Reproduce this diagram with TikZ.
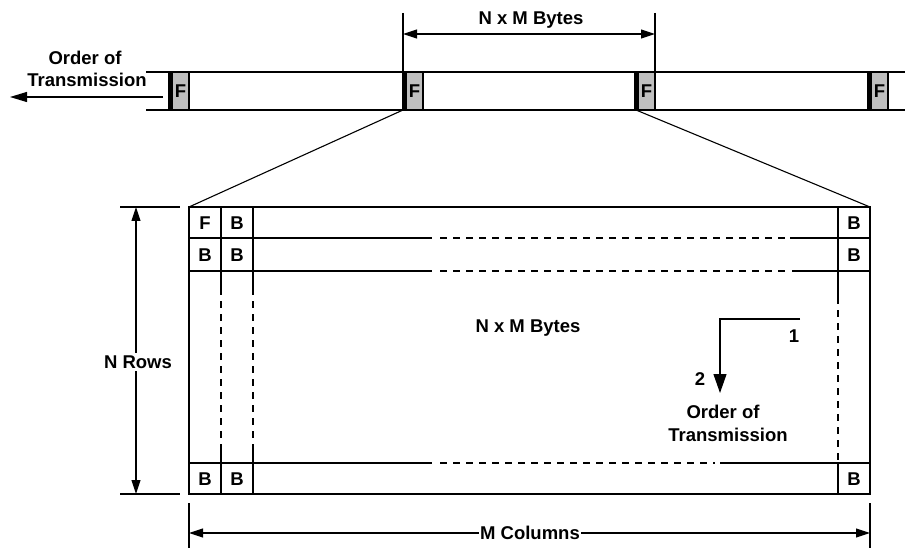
\documentclass[tikz,border=0pt]{standalone}
\usepackage{fontspec}
\setmainfont{Liberation Sans}
\usetikzlibrary{arrows.meta}
\begin{document}
\begin{tikzpicture}[x=1pt,y=-1pt,
  lbl/.style={font=\fontsize{18.5}{20}\selectfont\bfseries, inner sep=1pt},
  cell/.style={font=\fontsize{18.5}{20}\selectfont\bfseries, inner sep=0pt},
  dim/.style={line width=1.1pt, {Triangle[length=14pt,width=9pt]}-{Triangle[length=14pt,width=9pt]}},
  thin/.style={line width=1.1pt},
  thickl/.style={line width=2.4pt},
  fbox/.style={fill=black!25, draw=black, line width=1.1pt}]
\useasboundingbox (0,0) rectangle (905,548);

% ---- top strip ----
\draw[thickl] (146,72) -- (905,72);
\draw[thickl] (146,110) -- (905,110);
\foreach \x/\n in {168/fa,402/fb,634/fc,867/fd}{
  \filldraw[fbox] (\x+4,72) rectangle (\x+21,110);
  \fill (\x,72) rectangle (\x+4,110);
  \node[cell] (\n) at (\x+12.5,91) {F};
}
\coordinate (s1) at (163,97);
\coordinate (s0) at (10,97);
\draw[thin,-{Triangle[length=17pt,width=10pt]}] (s1) -- (s0);
\node[lbl] (ot1) at (85,58) {Order of};
\node[lbl] (ot2) at (87,80) {Transmission};

% top dimension
\coordinate (ta) at (403,13); \coordinate (tb) at (403,72);
\coordinate (tc) at (655,13); \coordinate (td) at (655,72);
\draw[thin] (ta) -- (tb);
\draw[thin] (tc) -- (td);
\coordinate (da) at (403,34); \coordinate (db) at (655,34);
\draw[dim] (da) -- (db);
\node[lbl] (nm1) at (531,20) {N x M Bytes};

% fan lines
\coordinate (f1) at (403,110); \coordinate (f2) at (636,110);
\coordinate (r1) at (189,207); \coordinate (r2) at (870,207);
\draw[thin] (f1) -- (r1);
\draw[thin] (f2) -- (r2);

% ---- big frame ----
\foreach \y/\a/\b in {238/790/790, 271/790/792, 463/715/720}{
  \draw[thin] (189,\y) -- (432,\y);
  \draw[thin,dash pattern=on 7pt off 6pt] (440,\y) -- (\a,\y);
  \draw[thin] (\b,\y) -- (870,\y);
}
\foreach \x in {221,253}{
  \draw[thin] (\x,207) -- (\x,288);
  \draw[thin,dash pattern=on 7pt off 6pt] (\x,288) -- (\x,445);
  \draw[thin] (\x,445) -- (\x,494);
}
\draw[thin] (838,207) -- (838,297);
\draw[thin,dash pattern=on 7pt off 6pt] (838,297) -- (838,463);
\draw[thin] (838,463) -- (838,494);
\draw[line width=2.4pt] (189,207) rectangle (870,494);

\node[cell] (c11) at (205,223) {F};
\node[cell] (c12) at (237,223) {B};
\node[cell] (c21) at (205,255) {B};
\node[cell] (c22) at (237,255) {B};
\node[cell] (c1r) at (854,223) {B};
\node[cell] (c2r) at (854,255) {B};
\node[cell] (cb1) at (205,479) {B};
\node[cell] (cb2) at (237,479) {B};
\node[cell] (cbr) at (854,479) {B};

\node[lbl] (nm2) at (528,328) {N x M Bytes};

% inner order arrow
\coordinate (o1) at (800,319);
\coordinate (o2) at (720,319);
\coordinate (o3) at (720,393);
\draw[thin,-{Triangle[length=19pt,width=13pt]}] (o1) -- (o2) -- (o3);
\node[lbl] (n1) at (794,336) {1};
\node[lbl] (n2) at (700,379) {2};
\node[lbl] (ot3) at (723,412) {Order of};
\node[lbl] (ot4) at (728,435) {Transmission};

% left dimension
\coordinate (la) at (120,207); \coordinate (lb) at (180,207);
\coordinate (lc) at (120,494); \coordinate (ld) at (180,494);
\draw[thin] (la) -- (lb);
\draw[thin] (lc) -- (ld);
\coordinate (va) at (136,207); \coordinate (vb) at (136,494);
\draw[dim] (va) -- (vb);
\node[lbl, fill=white, inner sep=3pt] (nr) at (138,362) {N Rows};

% bottom dimension
\coordinate (ba) at (189,503); \coordinate (bb) at (189,548);
\coordinate (bc) at (870,503); \coordinate (bd) at (870,548);
\draw[thin] (ba) -- (bb);
\draw[thin] (bc) -- (bd);
\coordinate (ha) at (189,533); \coordinate (hb) at (870,533);
\draw[dim] (ha) -- (hb);
\node[lbl, fill=white, inner sep=1pt] (mc) at (530,533) {M Columns};
\end{tikzpicture}
\end{document}
